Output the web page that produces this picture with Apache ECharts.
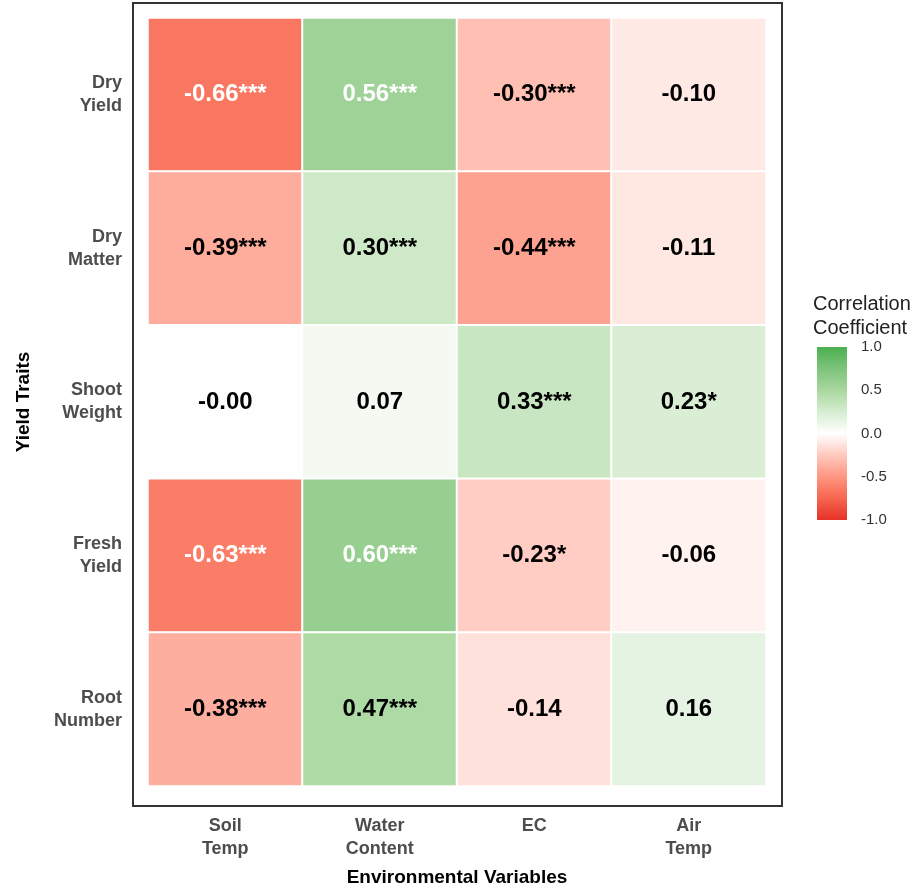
<!DOCTYPE html>
<html>
<head>
<meta charset="utf-8">
<script src="https://cdn.jsdelivr.net/npm/echarts@6/dist/echarts.min.js"></script>
<style>html,body{margin:0;padding:0;background:#fff;}#c{width:924px;height:892px;}</style>
</head>
<body>
<div id="c"></div>
<script>
// ---- data ----
var envVars = ['Soil\nTemp', 'Water\nContent', 'EC', 'Air\nTemp'];
var traits = ['Dry\nYield', 'Dry\nMatter', 'Shoot\nWeight', 'Fresh\nYield', 'Root\nNumber'];
var dryYield    = [-0.66, 0.56, -0.30, -0.10];
var dryMatter   = [-0.39, 0.30, -0.44, -0.11];
var shootWeight = [-0.004, 0.07, 0.33, 0.23];
var freshYield  = [-0.63, 0.60, -0.23, -0.06];
var rootNumber  = [-0.38, 0.47, -0.14, 0.16];
var sigDryYield    = ['***', '***', '***', ''];
var sigDryMatter   = ['***', '***', '***', ''];
var sigShootWeight = ['', '', '***', '*'];
var sigFreshYield  = ['***', '***', '*', ''];
var sigRootNumber  = ['***', '***', '', ''];
var legendTicks = [-1.0, -0.5, 0.0, 0.5, 1.0];

// ---- build ----
var rowsVals = [dryYield, dryMatter, shootWeight, freshYield, rootNumber];
var rowsSig = [sigDryYield, sigDryMatter, sigShootWeight, sigFreshYield, sigRootNumber];
var data = [];
rowsVals.forEach(function (row, r) {
  row.forEach(function (v, c) {
    var strong = Math.abs(v) > 0.5;
    data.push({ value: [c, r, v], sig: rowsSig[r][c], label: { color: strong ? '#fff' : '#000' } });
  });
});
var stops = ['#E53228', '#F6654F', '#FD9682', '#FFC9BE', '#FFFFFF', '#D6EDD1', '#A9D7A0', '#7DC47A', '#4CAF50'];
var gradStops = stops.map(function (col, i) { return { offset: 1 - i / (stops.length - 1), color: col }; });

var chart = echarts.init(document.getElementById('c'));
var FONT = '"Liberation Sans", Arial, sans-serif';
chart.setOption({
  backgroundColor: '#fff',
  animation: false,
  grid: [
    { left: 148, right: 158, top: 18, bottom: 102 },
    { left: 817, width: 30, top: 347, height: 173, show: true, borderWidth: 0,
      backgroundColor: new echarts.graphic.LinearGradient(0, 0, 0, 1, gradStops) }
  ],
  xAxis: [
    { type: 'category', data: envVars, gridIndex: 0,
      axisLine: { show: false }, axisTick: { show: false }, splitLine: { show: false },
      axisLabel: { margin: 29, fontFamily: FONT, fontWeight: 'bold', fontSize: 18, color: '#4D4D4D', lineHeight: 23 },
      name: 'Environmental Variables', nameLocation: 'middle', nameGap: 82,
      nameTextStyle: { fontFamily: FONT, fontWeight: 'bold', fontSize: 19, color: '#000' } },
    { type: 'value', gridIndex: 1, show: false, min: 0, max: 1 }
  ],
  yAxis: [
    { type: 'category', data: traits, inverse: true, gridIndex: 0,
      axisLine: { show: false }, axisTick: { show: false }, splitLine: { show: false },
      axisLabel: { margin: 26, fontFamily: FONT, fontWeight: 'bold', fontSize: 18, color: '#4D4D4D', lineHeight: 23 },
      name: 'Yield Traits', nameLocation: 'middle', nameGap: 115, nameRotate: 90,
      nameTextStyle: { fontFamily: FONT, fontWeight: 'bold', fontSize: 19, color: '#000' } },
    { type: 'value', gridIndex: 1, position: 'right', min: -1, max: 1, interval: 0.5,
      axisLine: { show: false }, splitLine: { show: false },
      axisTick: { show: true, inside: true, length: 6, lineStyle: { color: '#fff', width: 1 } },
      axisLabel: { margin: 14, fontFamily: FONT, fontSize: 15, color: '#333',
        formatter: function (v) { return legendTicks.indexOf(v) >= 0 ? v.toFixed(1) : ''; } } }
  ],
  visualMap: {
    show: false, type: 'continuous', min: -1, max: 1, dimension: 2, seriesIndex: 0,
    inRange: { color: stops }
  },
  series: [{
    type: 'heatmap', xAxisIndex: 0, yAxisIndex: 0, data: data,
    itemStyle: { borderColor: '#fff', borderWidth: 2 },
    label: {
      show: true, fontFamily: FONT, fontWeight: 'bold', fontSize: 24,
      formatter: function (p) { return p.value[2].toFixed(2) + p.data.sig; }
    }
  }],
  graphic: [
    { type: 'rect', shape: { x: 133, y: 3, width: 649, height: 803 }, style: { fill: 'none', stroke: '#333', lineWidth: 2 }, silent: true },
    { type: 'text', left: 813, top: 292, style: { text: 'Correlation\nCoefficient', font: '20px ' + FONT, fill: '#222', lineHeight: 24 } }
  ]
});
</script>
</body>
</html>
